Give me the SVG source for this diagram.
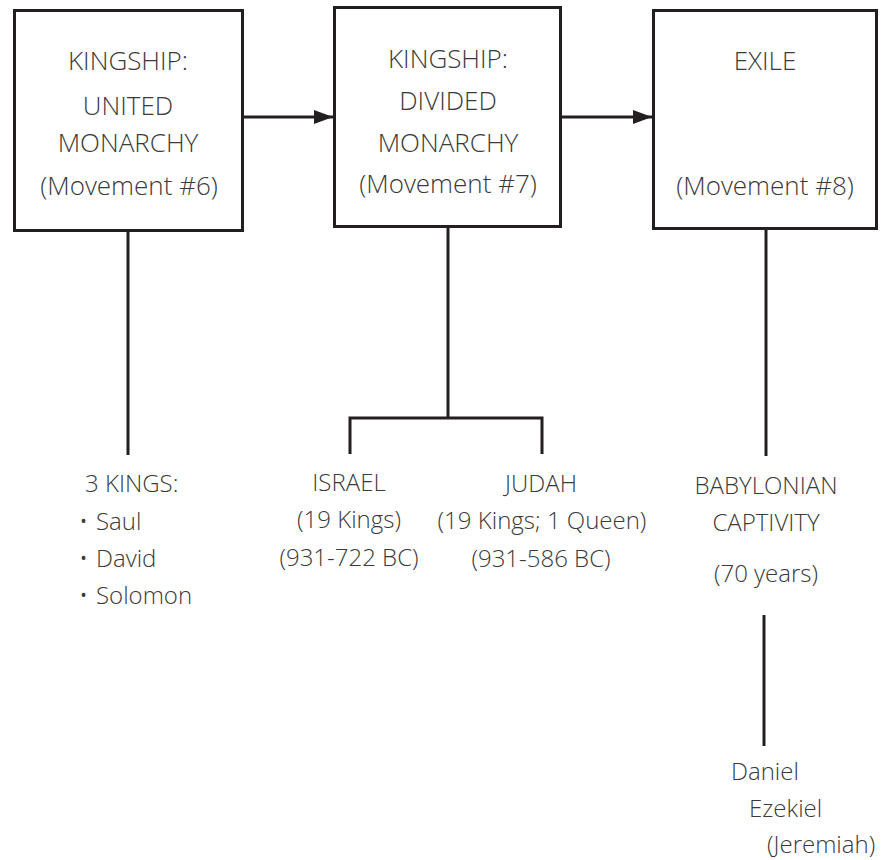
<svg xmlns="http://www.w3.org/2000/svg" width="883" height="860" viewBox="0 0 883 860">
<style>
.box{fill:#fff;stroke:#231f20;stroke-width:3}
.ln{fill:none;stroke:#231f20;stroke-width:3}
text{font-family:"Open Sans","Noto Sans","Liberation Sans",sans-serif;font-weight:300;font-size:24px;fill:#3a3a3a}
.b{font-size:26px}
.c{text-anchor:middle}
</style>
<defs>
<marker id="ah" markerUnits="userSpaceOnUse" markerWidth="20" markerHeight="14" refX="19" refY="7" orient="auto">
<path d="M0,0 L19,7 L0,14 Z" fill="#231f20"/>
</marker>
</defs>
<rect width="883" height="860" fill="#fff"/>
<g id="connectors">
<line class="ln" x1="244" y1="117" x2="333" y2="117" marker-end="url(#ah)"/>
<line class="ln" x1="562" y1="117" x2="652" y2="117" marker-end="url(#ah)"/>
<line class="ln" x1="128" y1="231" x2="128" y2="455"/>
<line class="ln" x1="448" y1="228" x2="448" y2="418"/>
<polyline class="ln" points="350,454 350,418 542,418 542,454"/>
<line class="ln" x1="766" y1="230" x2="766" y2="456"/>
<line class="ln" x1="764" y1="615" x2="764" y2="746"/>
</g>
<g id="united">
<rect class="box" x="14.5" y="10.5" width="228" height="220"/>
<text class="c b" x="128" y="70">KINGSHIP:</text>
<text class="c b" x="128" y="115">UNITED</text>
<text class="c b" x="128" y="152">MONARCHY</text>
<text class="c b" x="129" y="195">(Movement #6)</text>
</g>
<g id="divided">
<rect class="box" x="334.5" y="7.5" width="226" height="219"/>
<text class="c b" x="448" y="68">KINGSHIP:</text>
<text class="c b" x="448" y="110">DIVIDED</text>
<text class="c b" x="448" y="152">MONARCHY</text>
<text class="c b" x="448" y="193">(Movement #7)</text>
</g>
<g id="exile">
<rect class="box" x="653.5" y="10.5" width="223" height="218"/>
<text class="c b" x="765" y="70">EXILE</text>
<text class="c b" x="765" y="195">(Movement #8)</text>
</g>
<g id="kings">
<text x="85" y="492">3 KINGS:</text>
<text x="79" y="530">•</text><text x="96" y="530">Saul</text>
<text x="79" y="567">•</text><text x="96" y="567">David</text>
<text x="79" y="604">•</text><text x="96" y="604">Solomon</text>
</g>
<g id="israel">
<text class="c" x="349" y="491">ISRAEL</text>
<text class="c" x="349" y="528">(19 Kings)</text>
<text class="c" x="349" y="566">(931-722 BC)</text>
</g>
<g id="judah">
<text class="c" x="541" y="492">JUDAH</text>
<text class="c" x="542" y="529">(19 Kings; 1 Queen)</text>
<text class="c" x="541" y="567">(931-586 BC)</text>
</g>
<g id="babylonian">
<text class="c" x="766" y="494">BABYLONIAN</text>
<text class="c" x="766" y="531">CAPTIVITY</text>
<text class="c" x="766" y="582">(70 years)</text>
</g>
<g id="prophets">
<text x="731" y="780">Daniel</text>
<text x="749" y="817">Ezekiel</text>
<text x="767" y="853">(Jeremiah)</text>
</g>
</svg>
